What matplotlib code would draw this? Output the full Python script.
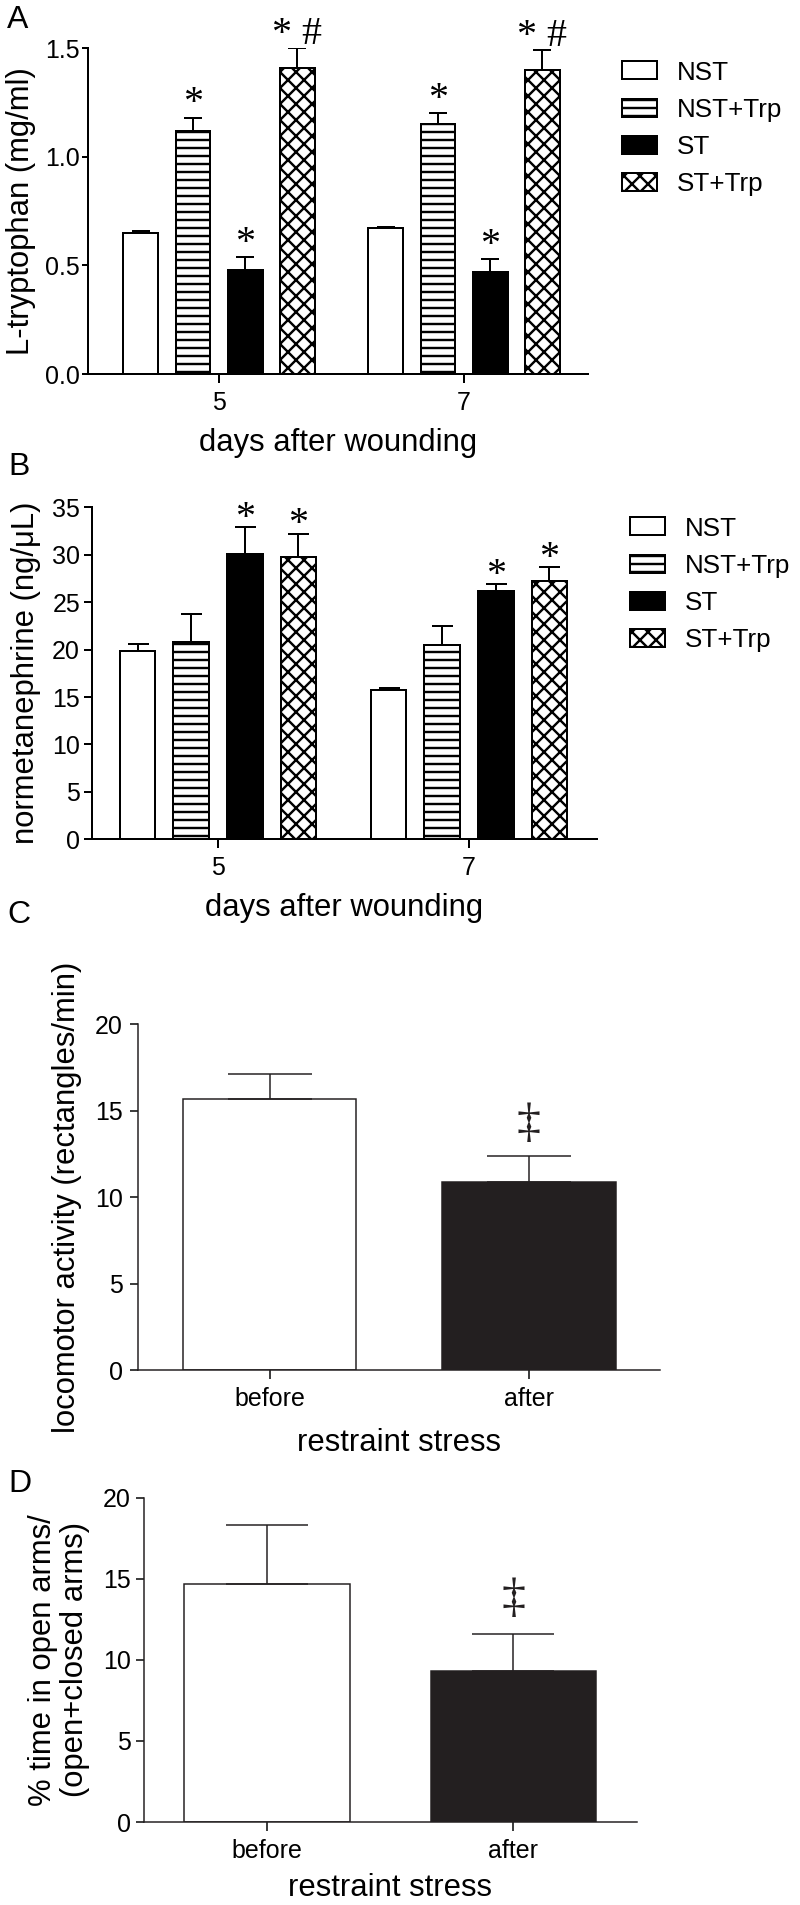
import matplotlib
matplotlib.use("Agg")
import matplotlib.pyplot as plt
import numpy as np

plt.rcParams['font.family'] = ['Liberation Sans', 'DejaVu Sans']
plt.rcParams['hatch.linewidth'] = 1.2
plt.rcParams['axes.linewidth'] = 1.0

# ---------------- data ----------------
days = ['5', '7']
groups = ['NST', 'NST+Trp', 'ST', 'ST+Trp']

# Panel A: L-tryptophan (mg/ml), rows = groups, cols = days
trp_mean = [[0.65, 0.67], [1.12, 1.15], [0.48, 0.47], [1.41, 1.40]]
trp_err = [[0.01, 0.005], [0.06, 0.05], [0.06, 0.06], [0.09, 0.09]]
trp_marks = [['', ''], ['*', '*'], ['*', '*'], ['* #', '* #']]
trp_ticks = [0.0, 0.5, 1.0, 1.5]

# Panel B: normetanephrine (ng/uL)
nmn_mean = [[19.9, 15.7], [20.8, 20.5], [30.1, 26.2], [29.8, 27.2]]
nmn_err = [[0.7, 0.25], [3.0, 2.0], [2.8, 0.7], [2.4, 1.5]]
nmn_marks = [['', ''], ['', ''], ['*', '*'], ['*', '*']]
nmn_ticks = [0, 5, 10, 15, 20, 25, 30, 35]

# Panel C: locomotor activity
stress_cats = ['before', 'after']
loco_mean = [15.7, 10.9]
loco_err = [1.4, 1.5]
loco_marks = ['', '\u2021']
loco_ticks = [0, 5, 10, 15, 20]

# Panel D: % time in open arms
arms_mean = [14.7, 9.3]
arms_err = [3.6, 2.3]
arms_marks = ['', '\u2021']
arms_ticks = [0, 5, 10, 15, 20]

# ---------------- style ----------------
W, H, DPI = 800, 1905, 144
fig = plt.figure(figsize=(W / DPI, H / DPI), dpi=DPI)

def rect(left, right, top, bottom):
    return [left / W, 1 - bottom / H, (right - left) / W, (bottom - top) / H]

g_face = ['white', 'white', 'black', 'white']
g_hatch = [None, '---', None, 'xxx']
serif = ['Liberation Serif', 'DejaVu Serif']
TICK_FS = 12.5
LAB_FS = 15.5

def style_axes(ax, ymax, ticks, fmt, ylen, ypad, lw):
    for s in ['top', 'right']:
        ax.spines[s].set_visible(False)
    for s in ['left', 'bottom']:
        ax.spines[s].set_linewidth(lw)
    ax.set_ylim(0, ymax)
    ax.set_yticks(ticks)
    ax.set_yticklabels([fmt.format(t) for t in ticks])
    ax.tick_params(axis='y', length=ylen, width=lw, pad=ypad, labelsize=TICK_FS)
    ax.tick_params(axis='x', length=4.5, width=lw, pad=4, labelsize=TICK_FS)

def grouped_panel(r, means, errs, marks, xlim, off, width, capsize, ymax, ticks,
                  fmt, ylabel, ylx, ylen, ypad, star_off, leg_anchor, xl_y):
    ax = fig.add_axes(r)
    x = np.arange(len(days))
    handles = []
    for i, g in enumerate(groups):
        xs = x + off[i]
        b = ax.bar(xs, means[i], width, facecolor=g_face[i], edgecolor='black',
                   hatch=g_hatch[i], linewidth=1.0, zorder=2, label=g)
        handles.append(b)
        ax.errorbar(xs, means[i], yerr=[np.zeros(len(xs)), errs[i]], fmt='none',
                    ecolor='black', elinewidth=1.0, capsize=capsize, capthick=1.0,
                    zorder=3)
        for xi, m, e, t in zip(xs, means[i], errs[i], marks[i]):
            if t:
                ax.annotate(t, (xi, m + e), xytext=(0, star_off),
                            textcoords='offset points', ha='center', va='center',
                            fontsize=20, family=serif, annotation_clip=False)
    ax.set_xlim(*xlim)
    ax.set_xticks(x)
    ax.set_xticklabels(days)
    style_axes(ax, ymax, ticks, fmt, ylen, ypad, 1.0)
    ax.set_ylabel(ylabel, fontsize=LAB_FS, va='center', ha='center')
    ax.yaxis.set_label_coords(ylx, 0.5)
    ax.set_xlabel('days after wounding', fontsize=LAB_FS, va='center')
    ax.xaxis.set_label_coords(0.5, xl_y)
    ax.legend(handles, groups, loc='upper left', bbox_to_anchor=leg_anchor,
              bbox_transform=fig.transFigure, frameon=False, fontsize=13,
              handlelength=35 / 26, handleheight=18 / 26, handletextpad=0.75,
              labelspacing=0.51, borderpad=0, borderaxespad=0)
    return ax

def pair_panel(r, means, errs, marks, xlim, width, capsize, ymax, ticks, ylabel,
               ylx, ylen, ypad, mark_off, xl_y):
    ax = fig.add_axes(r)
    x = np.arange(len(stress_cats))
    dark = '#231f20'
    ax.bar(x, means, width, color=['white', dark], edgecolor=dark, linewidth=0.75,
           zorder=2)
    ax.errorbar(x, means, yerr=[np.zeros(len(x)), errs], fmt='none', ecolor=dark,
                elinewidth=0.75, capsize=capsize, capthick=0.75, zorder=3)
    for xi, m, e, t in zip(x, means, errs, marks):
        if t:
            ax.annotate(t, (xi, m + e), xytext=(0, mark_off), textcoords='offset points',
                        ha='center', va='center', fontsize=24, family=serif,
                        color=dark, annotation_clip=False)
    ax.set_xlim(*xlim)
    ax.set_xticks(x)
    ax.set_xticklabels(stress_cats)
    style_axes(ax, ymax, ticks, '{:g}', ylen, ypad, 0.75)
    for s in ['left', 'bottom']:
        ax.spines[s].set_color(dark)
    ax.set_ylabel(ylabel, fontsize=LAB_FS, va='center', ha='center', linespacing=1.05)
    ax.yaxis.set_label_coords(ylx, 0.5)
    ax.set_xlabel('restraint stress', fontsize=LAB_FS, va='center')
    ax.xaxis.set_label_coords(0.5, xl_y)
    return ax

offA = [-0.32, -0.107, 0.107, 0.32]
offB = [-0.32, -0.107, 0.107, 0.32]

grouped_panel(rect(88, 588, 48, 374), trp_mean, trp_err, trp_marks,
              (-0.535, 1.506), offA, 0.141, 4.4, 1.5, trp_ticks, '{:.1f}',
              'L-tryptophan (mg/ml)', -0.134, 3, 1.0, 6.8,
              (622 / W, 1 - 60.5 / H), -0.2117)

grouped_panel(rect(92, 597, 507.3, 839.3), nmn_mean, nmn_err, nmn_marks,
              (-0.502, 1.51), offB, 0.141, 5.25, 35, nmn_ticks, '{:g}',
              'normetanephrine (ng/\u03bcL)', -0.1307, 4, 2.0, 4.5,
              (630 / W, 1 - 516.5 / H), -0.2078)

pair_panel(rect(138, 660, 1024.3, 1370), loco_mean, loco_err, loco_marks,
           (-0.507, 1.505), 0.667, 21, 20, loco_ticks,
           'locomotor activity (rectangles/min)', -0.136, 4, 3.5, 16, -0.2112)

pair_panel(rect(143.6, 637, 1497.7, 1822), arms_mean, arms_err, arms_marks,
           (-0.501, 1.502), 0.67, 20.5, 20, arms_ticks,
           '% time in open arms/\n(open+closed arms)', -0.1715, 4, 2.3, 17.5, -0.2035)

for lab, xp, yp in [('A', 7, 20), ('B', 8, 467.5), ('C', 7, 915), ('D', 8, 1483.5)]:
    fig.text(xp / W, 1 - yp / H, lab, fontsize=16, ha='left', va='center')

fig.savefig('out.png', dpi=DPI)
